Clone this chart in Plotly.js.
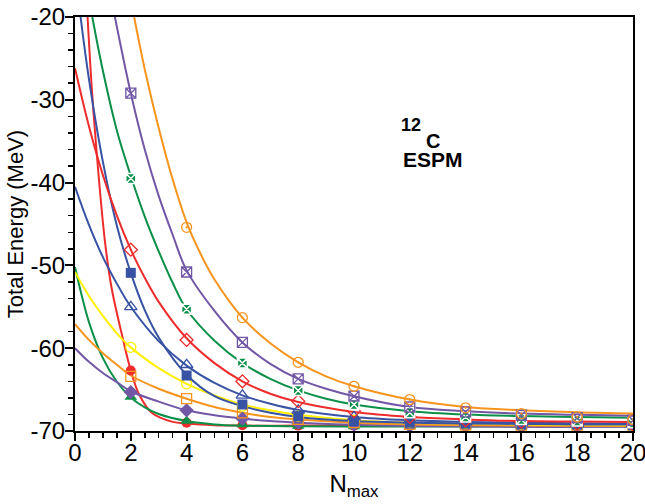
<!DOCTYPE html>
<html>
<head>
<meta charset="utf-8">
<script src="https://cdn.plot.ly/plotly-3.0.1.min.js"></script>
<style>html,body{margin:0;padding:0;background:#fff;}#chart{width:645px;height:504px;}</style>
</head>
<body>
<div id="chart"></div>
<script>
// ---- data ----
const nMarks = [2, 4, 6, 8, 10, 12, 14, 16, 18, 20];

const orangeDotMarks = [null, -45.4, -56.3, -61.7, -64.6, -66.2, -67.2, -67.9, -68.3, -68.6];
const purpleXMarks   = [-29.2, -50.8, -59.3, -63.7, -65.8, -67.1, -67.7, -68.1, -68.4, -68.7];
const greenXMarks    = [-39.5, -55.3, -61.8, -65.1, -66.8, -67.8, -68.3, -68.6, -68.8, -69.0];
const redDiaMarks    = [-48.1, -59.0, -64.0, -66.4, -67.6, -68.3, -68.7, -68.9, -69.1, -69.2];
const blueTriMarks   = [-55.0, -62.0, -65.7, -67.5, -68.3, -68.7, -68.9, -69.0, -69.1, -69.1];
const blueSqMarks    = [-50.9, -63.3, -66.8, -68.2, -68.8, -69.0, -69.1, -69.2, -69.2, -69.3];
const yellowMarks    = [-59.9, -64.3, -67.0, -68.2, -68.7, -69.0, -69.1, -69.2, -69.2, -69.3];
const orangeSqMarks  = [-63.4, -66.1, -67.8, -68.6, -69.0, -69.2, -69.3, -69.4, -69.4, -69.4];
const purpleDiaMarks = [-65.3, -67.5, -68.5, -69.0, -69.2, -69.4, -69.4, -69.5, -69.5, -69.5];
const greenTriMarks  = [-65.9, -68.8, -69.2, -69.4, -69.45, -69.45, -69.45, -69.45, -69.45, -69.45];
const redDotMarks    = [-62.7, -69.0, -69.3, -69.35, -69.35, -69.35, -69.35, -69.35, -69.35, -69.35];

const orangeDotCurveN = [2.12, 2.5, 3, 3.5, 4, 4.5, 5, 6, 7, 8, 9, 10, 12, 14, 16, 18, 20];
const orangeDotCurveE = [-20, -26.3, -33.4, -39.6, -44.8, -48.6, -51.7, -56.3, -59.4, -61.7, -63.4, -64.6, -66.2, -67.1, -67.5, -67.75, -67.9];

const purpleXCurveN = [1.43, 2, 2.5, 3, 3.5, 4, 5, 6, 7, 8, 9, 10, 12, 14, 16, 18, 20];
const purpleXCurveE = [-20, -29.2, -36.0, -41.6, -46.3, -50.6, -55.5, -59.3, -61.9, -63.7, -64.9, -65.8, -67.1, -67.6, -67.9, -68.05, -68.15];

const greenXCurveN = [0.62, 1, 1.5, 2, 2.5, 3, 3.5, 4, 5, 6, 7, 8, 9, 10, 12, 14, 16, 18, 20];
const greenXCurveE = [-20, -26.5, -33.7, -39.2, -44.1, -48.3, -52.1, -55.3, -59.1, -61.8, -63.7, -65.1, -66.1, -66.8, -67.6, -68.0, -68.2, -68.3, -68.4];

const redDiaCurveN = [0, 0.5, 1, 1.5, 2, 2.5, 3, 4, 5, 6, 7, 8, 10, 12, 14, 16, 18, 20];
const redDiaCurveE = [-26.2, -33.2, -39.1, -44.0, -48.1, -51.5, -54.4, -58.8, -61.8, -64.0, -65.5, -66.5, -67.7, -68.3, -68.6, -68.8, -68.85, -68.9];

const blueTriCurveN = [0, 0.5, 1, 1.5, 2, 3, 4, 5, 6, 7, 8, 10, 12, 14, 16, 18, 20];
const blueTriCurveE = [-40.5, -45.1, -49.0, -52.2, -55.0, -59.15, -62.1, -64.2, -65.7, -66.7, -67.45, -68.3, -68.7, -68.9, -69.0, -69.05, -69.1];

const blueSqCurveN = [0.2, 0.5, 1, 1.5, 2, 2.5, 3, 4, 5, 6, 7, 8, 10, 12, 14, 16, 18, 20];
const blueSqCurveE = [-20, -27.5, -37.5, -45.2, -50.9, -55.4, -58.7, -63.2, -65.8, -67.0, -67.8, -68.3, -68.8, -69.0, -69.1, -69.15, -69.2, -69.2];

const yellowCurveN = [0, 0.5, 1, 1.5, 2, 3, 4, 5, 6, 7, 8, 10, 12, 14, 16, 18, 20];
const yellowCurveE = [-50.8, -53.7, -56.1, -58.2, -59.9, -62.4, -64.3, -65.7, -66.8, -67.5, -68.05, -68.7, -69.0, -69.1, -69.2, -69.25, -69.3];

const orangeSqCurveN = [0, 0.5, 1, 1.5, 2, 3, 4, 5, 6, 7, 8, 10, 12, 14, 16, 18, 20];
const orangeSqCurveE = [-57.1, -59.0, -60.6, -62.0, -63.3, -64.9, -66.1, -67.1, -67.8, -68.3, -68.6, -69.0, -69.2, -69.3, -69.35, -69.4, -69.4];

const purpleDiaCurveN = [0, 0.5, 1, 1.5, 2, 3, 4, 5, 6, 7, 8, 10, 12, 14, 16, 18, 20];
const purpleDiaCurveE = [-60.0, -61.65, -63.0, -64.1, -65.2, -66.45, -67.5, -68.1, -68.5, -68.8, -69.0, -69.25, -69.4, -69.45, -69.5, -69.5, -69.5];

const greenTriCurveN = [0, 0.5, 1, 1.5, 2, 2.5, 3, 4, 5, 6, 8, 10, 12, 14, 16, 18, 20];
const greenTriCurveE = [-50.2, -56.85, -61.2, -64.05, -65.95, -67.15, -67.95, -68.8, -69.2, -69.35, -69.43, -69.45, -69.45, -69.45, -69.45, -69.45, -69.45];

const redSteepCurveN = [0.45, 0.6, 0.77, 1.07, 1.31, 1.67, 2, 2.3, 2.75, 3.5, 4, 5, 6, 8, 10, 12, 14, 16, 18, 20];
const redSteepCurveE = [-20, -28.5, -36.1, -47.0, -52.7, -58.2, -62.7, -65.6, -67.8, -68.9, -69.1, -69.3, -69.35, -69.35, -69.35, -69.35, -69.35, -69.35, -69.35, -69.35];

const xTickVals = [0, 2, 4, 6, 8, 10, 12, 14, 16, 18, 20];
const xTickText = ['0', '2', '4', '6', '8', '10', '12', '14', '16', '18', '20'];
const yTickVals = [-70, -60, -50, -40, -30, -20];
const yTickText = ['-70', '-60', '-50', '-40', '-30', '-20'];

// ---- styles ----
const C = {
  orange: '#F7941D', purple: '#7157A6', green: '#0A9048', red: '#EE2C2C',
  blue: '#3852A4', yellow: '#FFF000'
};

const series = [
  {n: redSteepCurveN, e: redSteepCurveE, m: redDotMarks, color: C.red, sym: 'circle', size: 10},
  {n: greenTriCurveN, e: greenTriCurveE, m: greenTriMarks, color: C.green, sym: 'triangle-up', size: 11},
  {n: purpleDiaCurveN, e: purpleDiaCurveE, m: purpleDiaMarks, color: C.purple, sym: 'diamond', size: 11},
  {n: orangeSqCurveN, e: orangeSqCurveE, m: orangeSqMarks, color: C.orange, sym: 'square-open', size: 10},
  {n: yellowCurveN, e: yellowCurveE, m: yellowMarks, color: C.yellow, sym: 'circle-open', size: 10},
  {n: blueSqCurveN, e: blueSqCurveE, m: blueSqMarks, color: C.blue, sym: 'square', size: 10},
  {n: blueTriCurveN, e: blueTriCurveE, m: blueTriMarks, color: C.blue, sym: 'triangle-up-open', size: 11},
  {n: redDiaCurveN, e: redDiaCurveE, m: redDiaMarks, color: C.red, sym: 'diamond-open', size: 10},
  {n: greenXCurveN, e: greenXCurveE, m: greenXMarks, color: C.green, sym: 'square-x', size: 10, lineColor: '#ffffff'},
  {n: purpleXCurveN, e: purpleXCurveE, m: purpleXMarks, color: C.purple, sym: 'square-x-open', size: 10},
  {n: orangeDotCurveN, e: orangeDotCurveE, m: orangeDotMarks, color: C.orange, sym: 'circle-open-dot', size: 10}
];

const traces = [];
series.forEach(s => {
  traces.push({
    x: s.n, y: s.e, type: 'scatter', mode: 'lines',
    line: {color: s.color, width: 2, shape: 'spline', smoothing: 1},
    hoverinfo: 'skip', showlegend: false
  });
});
series.forEach(s => {
  const filled = !/open/.test(s.sym);
  traces.push({
    x: nMarks, y: s.m, type: 'scatter', mode: 'markers',
    marker: {
      symbol: s.sym, size: s.size, color: s.color,
      line: {color: s.lineColor || s.color, width: filled ? (s.lineColor ? 1.5 : 0) : 1.3}
    },
    showlegend: false
  });
});

const baseFont = '"Liberation Sans", Arial, Helvetica, sans-serif';
const tickFont = {family: baseFont, size: 24, color: '#000'};

const layout = {
  width: 645, height: 504,
  margin: {l: 75, r: 12, t: 17, b: 73, pad: 0},
  paper_bgcolor: '#fff', plot_bgcolor: '#fff',
  showlegend: false,
  xaxis: {
    range: [0, 20], tickvals: xTickVals, ticktext: xTickText,
    showgrid: false, zeroline: false,
    showline: true, linecolor: '#000', linewidth: 2, mirror: true,
    ticks: 'outside', ticklen: 8, tickwidth: 2, tickcolor: '#000',
    minor: {dtick: 0.5, ticks: 'outside', ticklen: 5, tickwidth: 1.5, tickcolor: '#000', showgrid: false},
    tickfont: tickFont, ticklabeloverflow: 'allow', ticklabelstandoff: -9,
    title: {text: 'N<sub>max</sub>', font: {family: baseFont, size: 24, color: '#000'}, standoff: 10}
  },
  yaxis: {
    range: [-70, -20], tickvals: yTickVals, ticktext: yTickText,
    showgrid: false, zeroline: false,
    showline: true, linecolor: '#000', linewidth: 2, mirror: true,
    ticks: 'outside', ticklen: 8, tickwidth: 2, tickcolor: '#000',
    minor: {dtick: 2, ticks: 'outside', ticklen: 5, tickwidth: 1.5, tickcolor: '#000', showgrid: false},
    tickfont: tickFont, ticklabelstandoff: -5,
    title: {text: 'Total Energy (MeV)', font: {family: baseFont, size: 22, color: '#000'}, standoff: 1}
  },
  annotations: [
    {xref: 'paper', yref: 'paper', x: 0.602, y: 0.738, text: '<b>12</b>', showarrow: false,
     font: {family: baseFont, size: 18, color: '#000'}, xanchor: 'center', yanchor: 'middle', borderpad: 0},
    {xref: 'paper', yref: 'paper', x: 0.641, y: 0.700, text: '<b>C</b>', showarrow: false,
     font: {family: baseFont, size: 20, color: '#000'}, xanchor: 'center', yanchor: 'middle', borderpad: 0},
    {xref: 'paper', yref: 'paper', x: 0.641, y: 0.656, text: '<b>ESPM</b>', showarrow: false,
     font: {family: baseFont, size: 21, color: '#000'}, xanchor: 'center', yanchor: 'middle', borderpad: 0}
  ]
};

Plotly.newPlot('chart', traces, layout, {staticPlot: true, displayModeBar: false});
</script>
</body>
</html>
